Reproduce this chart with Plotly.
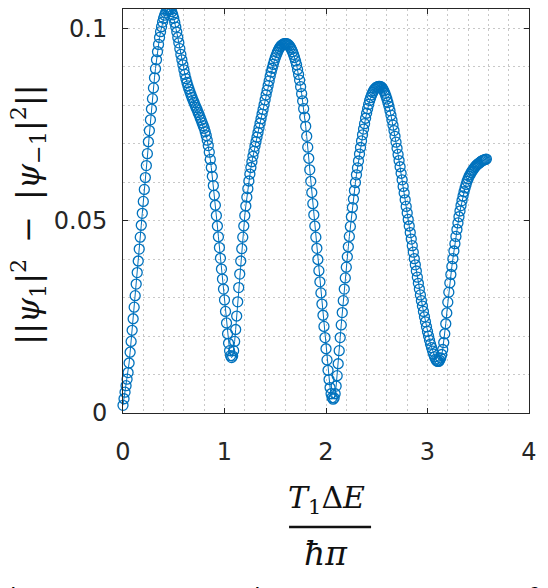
import plotly.graph_objects as go

# sampled curve, x step of 0.01 starting at 0
x_start = 0.0
x_step = 0.01
y_vals = [
    0.0020, 0.0037, 0.0054, 0.0071, 0.0088, 0.0105, 0.0130, 0.0158, 0.0186, 0.0215,
    0.0245, 0.0275, 0.0305, 0.0335, 0.0365, 0.0395, 0.0426, 0.0457, 0.0488, 0.0519,
    0.0550, 0.0581, 0.0612, 0.0643, 0.0674, 0.0705, 0.0734, 0.0762, 0.0790, 0.0817,
    0.0845, 0.0871, 0.0895, 0.0918, 0.0939, 0.0958, 0.0976, 0.0991, 0.1004, 0.1016,
    0.1026, 0.1034, 0.1040, 0.1045, 0.1048, 0.1050, 0.1050, 0.1048, 0.1043, 0.1035,
    0.1026, 0.1015, 0.1003, 0.0990, 0.0976, 0.0962, 0.0947, 0.0932, 0.0918, 0.0905,
    0.0892, 0.0880, 0.0869, 0.0859, 0.0850, 0.0842, 0.0834, 0.0827, 0.0820, 0.0813,
    0.0807, 0.0800, 0.0794, 0.0788, 0.0781, 0.0775, 0.0768, 0.0761, 0.0754, 0.0747,
    0.0740, 0.0731, 0.0721, 0.0709, 0.0695, 0.0678, 0.0659, 0.0638, 0.0615, 0.0591,
    0.0566, 0.0540, 0.0513, 0.0486, 0.0458, 0.0430, 0.0402, 0.0374, 0.0348, 0.0322,
    0.0294, 0.0264, 0.0234, 0.0206, 0.0181, 0.0162, 0.0149, 0.0144, 0.0148, 0.0162,
    0.0186, 0.0217, 0.0252, 0.0289, 0.0326, 0.0361, 0.0395, 0.0427, 0.0457, 0.0486,
    0.0513, 0.0538, 0.0561, 0.0583, 0.0603, 0.0621, 0.0638, 0.0653, 0.0667, 0.0680,
    0.0693, 0.0705, 0.0717, 0.0729, 0.0741, 0.0753, 0.0765, 0.0777, 0.0789, 0.0801,
    0.0814, 0.0827, 0.0839, 0.0851, 0.0863, 0.0875, 0.0886, 0.0896, 0.0906, 0.0915,
    0.0923, 0.0930, 0.0937, 0.0943, 0.0948, 0.0952, 0.0955, 0.0957, 0.0959, 0.0960,
    0.0960, 0.0960, 0.0959, 0.0957, 0.0954, 0.0950, 0.0945, 0.0939, 0.0932, 0.0924,
    0.0915, 0.0905, 0.0893, 0.0880, 0.0865, 0.0848, 0.0830, 0.0811, 0.0791, 0.0769,
    0.0745, 0.0719, 0.0691, 0.0662, 0.0632, 0.0602, 0.0573, 0.0544, 0.0515, 0.0486,
    0.0457, 0.0428, 0.0399, 0.0370, 0.0341, 0.0312, 0.0283, 0.0254, 0.0225, 0.0196,
    0.0167, 0.0138, 0.0111, 0.0087, 0.0066, 0.0050, 0.0040, 0.0036, 0.0039, 0.0050,
    0.0070, 0.0097, 0.0128, 0.0162, 0.0196, 0.0229, 0.0261, 0.0292, 0.0322, 0.0351,
    0.0379, 0.0406, 0.0432, 0.0459, 0.0485, 0.0510, 0.0534, 0.0556, 0.0578, 0.0599,
    0.0619, 0.0637, 0.0655, 0.0673, 0.0690, 0.0707, 0.0723, 0.0738, 0.0752, 0.0766,
    0.0779, 0.0791, 0.0802, 0.0812, 0.0820, 0.0827, 0.0833, 0.0838, 0.0842, 0.0845,
    0.0847, 0.0848, 0.0849, 0.0849, 0.0848, 0.0846, 0.0842, 0.0837, 0.0831, 0.0824,
    0.0816, 0.0807, 0.0797, 0.0786, 0.0774, 0.0761, 0.0748, 0.0734, 0.0719, 0.0704,
    0.0688, 0.0672, 0.0656, 0.0640, 0.0623, 0.0606, 0.0589, 0.0572, 0.0554, 0.0537,
    0.0520, 0.0503, 0.0486, 0.0469, 0.0452, 0.0435, 0.0418, 0.0401, 0.0385, 0.0369,
    0.0353, 0.0337, 0.0322, 0.0307, 0.0292, 0.0278, 0.0264, 0.0250, 0.0237, 0.0224,
    0.0212, 0.0200, 0.0189, 0.0179, 0.0170, 0.0161, 0.0153, 0.0146, 0.0140, 0.0136,
    0.0134, 0.0134, 0.0137, 0.0143, 0.0152, 0.0165, 0.0183, 0.0206, 0.0232, 0.0260,
    0.0288, 0.0314, 0.0338, 0.0360, 0.0381, 0.0401, 0.0421, 0.0440, 0.0459, 0.0477,
    0.0494, 0.0510, 0.0525, 0.0539, 0.0552, 0.0564, 0.0575, 0.0585, 0.0594, 0.0602,
    0.0609, 0.0615, 0.0620, 0.0625, 0.0629, 0.0633, 0.0637, 0.0640, 0.0643, 0.0646,
    0.0648, 0.0650, 0.0652, 0.0654, 0.0656, 0.0657, 0.0658, 0.0659, 0.0660,
]
x_vals = [round(x_start + i * x_step, 2) for i in range(len(y_vals))]

x_ticks = [0, 1, 2, 3, 4]
y_ticks = [0, 0.05, 0.1]
y_ticktext = ["0", "0.05", "0.1"]

blue = "#0072BD"
axis_col = "#262626"
grid_col = "#c8c8c8"
grid_dash = "2px,3px"

fig = go.Figure()
fig.add_trace(go.Scatter(
    x=x_vals, y=y_vals, mode="lines+markers",
    line=dict(color=blue, width=1),
    marker=dict(symbol="circle-open", size=10, color=blue, line=dict(width=1.3)),
    cliponaxis=False, showlegend=False,
))

axis_common = dict(
    showline=True, linecolor=axis_col, linewidth=1, mirror="ticks",
    ticks="inside", ticklen=5, tickcolor=axis_col, tickwidth=1,
    showgrid=True, gridcolor=grid_col, griddash=grid_dash, gridwidth=1,
    zeroline=False,
    tickfont=dict(family="DejaVu Sans", size=24, color=axis_col),
)

fig.update_xaxes(
    range=[0, 4], tickvals=x_ticks, ticklabelstandoff=17,
    minor=dict(dtick=0.2, showgrid=True, gridcolor=grid_col, griddash=grid_dash, ticklen=0),
    **axis_common,
)
fig.update_yaxes(
    range=[0, 0.105], tickvals=y_ticks, ticktext=y_ticktext, ticklabelstandoff=10,
    minor=dict(dtick=0.01, showgrid=True, gridcolor=grid_col, griddash=grid_dash, ticklen=0),
    **axis_common,
)

serif = dict(family="DejaVu Serif", color="#111111")

fig.add_annotation(
    text="||<i>ψ</i><sub>1</sub>|<sup>2</sup>\u2002−\u2002|<i>ψ</i><sub>−1</sub>|<sup>2</sup>||",
    xref="paper", yref="paper", x=-0.235, y=0.49, textangle=-90,
    showarrow=False, xanchor="center", yanchor="middle",
    font=dict(size=32, **serif),
)
fig.add_annotation(
    text="<i>T</i><sub>1</sub>Δ<i>E</i>",
    xref="paper", yref="paper", x=0.5, y=-0.215,
    showarrow=False, xanchor="center", yanchor="middle",
    font=dict(size=30, **serif),
)
fig.add_annotation(
    text="<i>ħπ</i>",
    xref="paper", yref="paper", x=0.5, y=-0.349,
    showarrow=False, xanchor="center", yanchor="middle",
    font=dict(size=33, **serif),
)
fig.add_shape(
    type="line", xref="paper", yref="paper",
    x0=0.409, x1=0.611, y0=-0.282, y1=-0.282,
    line=dict(color="#111111", width=2.5),
)
fig.add_annotation(
    text="between augmented TOF measurements of",
    xref="paper", yref="paper", x=-0.283, y=-0.404,
    showarrow=False, xanchor="left", yanchor="top",
    font=dict(family="Open Sans", size=26, color="#000000"),
)

# page adds an 8px body margin, so the figure is 8px smaller than the window
fig.update_layout(
    width=540, height=580,
    margin=dict(l=115, r=19, t=1, b=175),
    plot_bgcolor="white", paper_bgcolor="white",
)

fig.write_html("out.html")
